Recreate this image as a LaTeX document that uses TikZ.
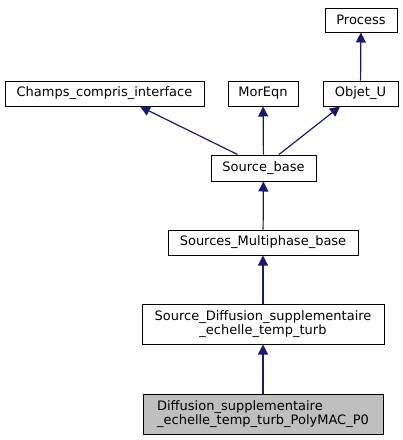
\documentclass[tikz,border=0pt]{standalone}
\usepackage{fontspec}
\setmainfont{DejaVu Sans}
\usetikzlibrary{arrows.meta}
\definecolor{edgeblue}{HTML}{191970}
\definecolor{boxgray}{HTML}{BFBFBF}
\begin{document}
\begin{tikzpicture}[x=1pt,y=-1pt,
  cls/.style={draw=black,line width=1pt,rectangle,inner sep=0pt,font=\fontsize{13}{14.5}\selectfont,align=center},
  edge/.style={draw=edgeblue,line width=1.2pt,-{Triangle[length=10pt,width=10pt]}}]
\useasboundingbox (0,0) rectangle (403,440);
\node[cls,minimum width=72pt,minimum height=24pt] (process) at (361,20) {Process};
\node[cls,minimum width=199pt,minimum height=25pt] (champs) at (104.5,93.5) {Champs\_compris\_interface};
\node[cls,minimum width=70pt,minimum height=25pt] (moreqn) at (263,93.5) {MorEqn};
\node[cls,minimum width=75pt,minimum height=25pt] (objet) at (360.5,93.5) {Objet\_U};
\node[cls,minimum width=105pt,minimum height=26pt] (sb) at (263.5,168) {Source\_base};
\node[cls,minimum width=190pt,minimum height=25pt] (smb) at (263,242.5) {Sources\_Multiphase\_base};
\node[cls,minimum width=242pt,minimum height=40pt] (sdiff) at (263,324) {Source\_Diffusion\_supplementaire\\\_echelle\_temp\_turb};
\node[cls,fill=boxgray,minimum width=240pt,minimum height=40pt,align=left] (poly) at (263,414) {Diffusion\_supplementaire\\\_echelle\_temp\_turb\_PolyMAC\_P0};
\draw[edge] (objet) -- (process);
\draw[edge] ([xshift=-26pt]sb.north) -- ([xshift=35.5pt]champs.south);
\draw[edge] (sb) -- (moreqn);
\draw[edge] ([xshift=15.5pt]sb.north) -- ([xshift=-20.5pt]objet.south);
\draw[edge] (smb) -- (sb);
\draw[edge] (sdiff) -- (smb);
\draw[edge] (poly) -- (sdiff);
\end{tikzpicture}
\end{document}
